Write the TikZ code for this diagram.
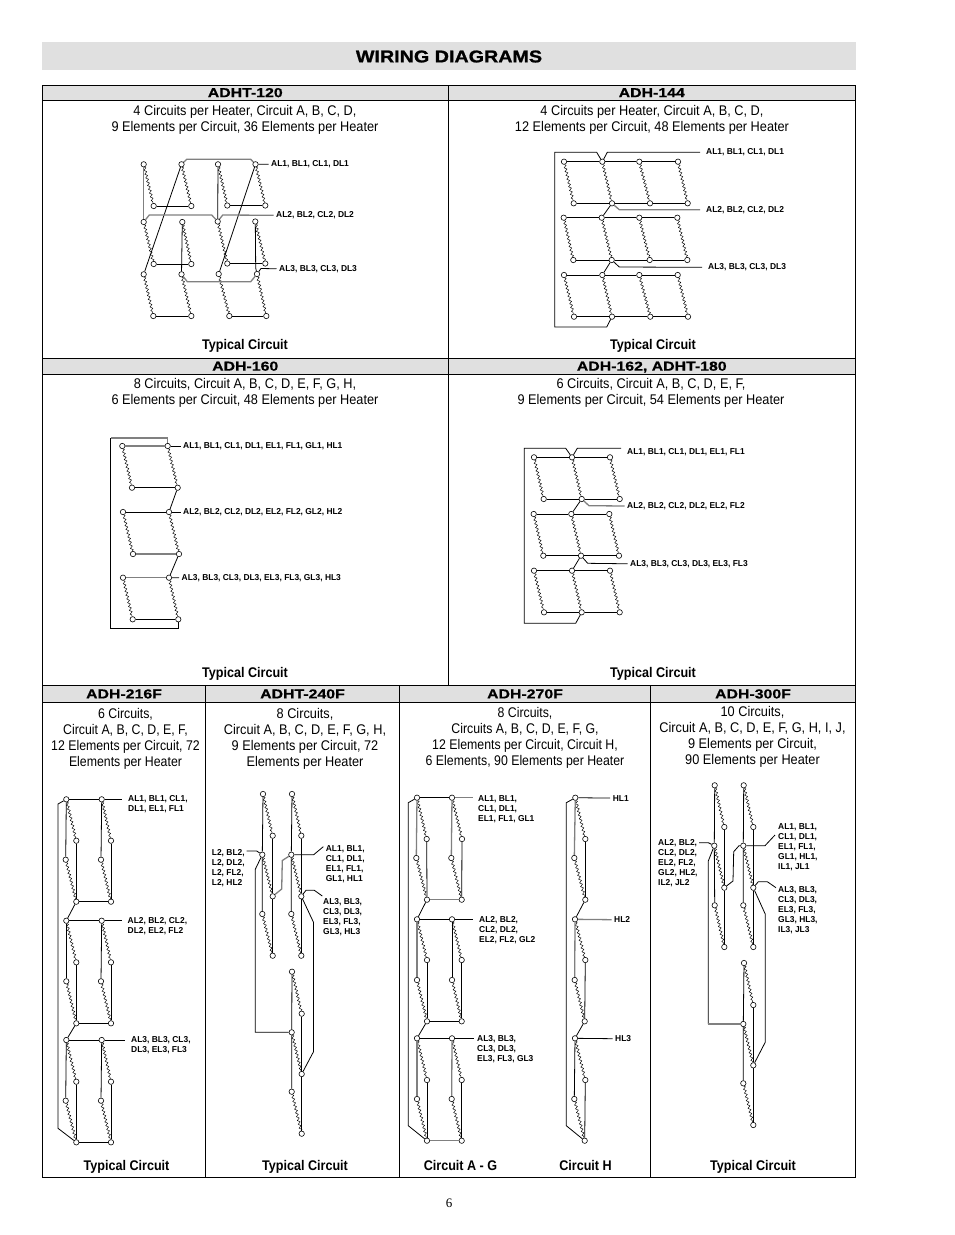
\documentclass[tikz,border=0pt]{standalone}
\usepackage{fontspec}
\setmainfont{Liberation Sans}
\newfontfamily\bodyfont[FakeStretch=.91]{Liberation Sans}
\newfontfamily\narrowfont[FakeStretch=.88]{Liberation Sans}
\newfontfamily\tagfont[FakeStretch=.98]{Liberation Sans}
\newfontfamily\capfont[FakeStretch=.9]{Liberation Sans}
\newfontfamily\headfont[FakeStretch=1.22,BoldFeatures={FakeBold=.6}]{Liberation Sans}
\newfontfamily\titlefont[FakeStretch=1.16,BoldFeatures={FakeBold=1.2}]{Liberation Sans}
\newfontfamily\pagefont{Liberation Serif}
\usetikzlibrary{decorations.pathmorphing}
\definecolor{bandgray}{gray}{0.88}
\begin{document}
\begin{tikzpicture}[
  x=1pt, y=-1pt,
  term/.style={circle, draw, fill=white, minimum size=5.4pt, inner sep=0pt, line width=.6pt},
  wire/.style={draw, line width=.8pt},
  hwire/.style={draw=black!50, line width=1.3pt},
  heater/.style={draw, line width=.45pt, decorate, decoration={zigzag, segment length=3.9pt, amplitude=1.25pt}},
  frameline/.style={draw, line width=.9pt},
  cell/.style={draw, fill=bandgray, line width=.9pt, inner sep=0pt, outer sep=0pt, text height=9.3pt, text depth=0pt, font=\headfont\bfseries\fontsize{13}{14}\selectfont},
  txt/.style={align=center, inner sep=0pt, font=\bodyfont\fontsize{14}{16}\selectfont},
  capt/.style={inner sep=0pt, text height=10pt, text depth=3pt, font=\capfont\bfseries\fontsize{14}{16}\selectfont},
  tag/.style={anchor=west, align=left, inner sep=2.5pt, font=\tagfont\bfseries\fontsize{8.6}{10}\selectfont}
]
\useasboundingbox (0,0) rectangle (954,1235);

\fill[bandgray] (42,42) rectangle (856,70);
\node[inner sep=0pt, font=\titlefont\bfseries\fontsize{17}{18}\selectfont] (title) at (449,56.5) {WIRING DIAGRAMS};

\draw[frameline] (42.5,85) rectangle (855.5,1177);
\foreach \nm/\x/\y/\w/\h/\lab in {
  hA/245.25/92.5/405.5/15/ADHT-120, hB/651.75/92.5/407.5/15/ADH-144,
  hC/245.25/366/405.5/16/ADH-160, hD/651.75/366/407.5/16/{ADH-162, ADHT-180},
  hE/124/693.75/163/16.5/ADH-216F, hF/302.5/693.75/194/16.5/ADHT-240F,
  hG/525/693.75/251/16.5/ADH-270F, hH/753/693.75/205/16.5/ADH-300F}
  \node[cell, minimum width=\w pt, minimum height=\h pt] (\nm) at (\x,\y) {\lab};
\draw[frameline] (448,100) -- (448,358);
\draw[frameline] (448,374) -- (448,685.5);
\draw[frameline] (42.5,358) -- (855.5,358);
\draw[frameline] (42.5,685.5) -- (855.5,685.5);
\foreach \x in {205.5,399.5,650.5} \draw[frameline] (\x,702) -- (\x,1177);

\node[txt] (nA) at (245,120) {4 Circuits per Heater, Circuit A, B, C, D,\\9 Elements per Circuit, 36 Elements per Heater};
\node[txt] (nB) at (652,120) {4 Circuits per Heater, Circuit A, B, C, D,\\12 Elements per Circuit, 48 Elements per Heater};
\node[txt] (nC) at (245,393) {8 Circuits, Circuit A, B, C, D, E, F, G, H,\\6 Elements per Circuit, 48 Elements per Heater};
\node[txt] (nD) at (651,393) {6 Circuits, Circuit A, B, C, D, E, F,\\9 Elements per Circuit, 54 Elements per Heater};
\node[txt, font=\narrowfont\fontsize{14}{16}\selectfont] (nE) at (125.5,739) {6 Circuits,\\Circuit A, B, C, D, E, F,\\12 Elements per Circuit, 72\\Elements per Heater};
\node[txt] (nF) at (305,739) {8 Circuits,\\Circuit A, B, C, D, E, F, G, H,\\9 Elements per Circuit, 72\\Elements per Heater};
\node[txt, font=\narrowfont\fontsize{14}{16}\selectfont] (nG) at (525,738) {8 Circuits,\\Circuits A, B, C, D, E, F, G,\\12 Elements per Circuit, Circuit H,\\6 Elements, 90 Elements per Heater};
\node[txt] (nH) at (752.5,737) {10 Circuits,\\Circuit A, B, C, D, E, F, G, H, I, J,\\9 Elements per Circuit,\\90 Elements per Heater};

\foreach \nm/\x/\y/\lab in {
  cA/245/345.5/Typical Circuit, cB/653/345.5/Typical Circuit, cC/245/673.5/Typical Circuit, cD/653/673.5/Typical Circuit,
  cE/126.5/1166.5/Typical Circuit, cF/305/1166.5/Typical Circuit, cG/460.5/1166.5/Circuit A - G, cGh/585.5/1166.5/Circuit H, cH/753/1166.5/Typical Circuit}
  \node[capt] (\nm) at (\x,\y) {\lab};
\node[inner sep=0pt, font=\pagefont\fontsize{13}{14}\selectfont] (pageno) at (449,1203) {6};

\foreach \nm/\x/\y in {
  At1a/143.7/164.3, At1b/181.5/164.3, At1c/218/164.3, At1d/255.5/164.3,
  Ab1a/153.7/206, Ab1b/191.3/206, Ab1c/227.3/205.5, Ab1d/265.3/205.5,
  At2a/143.7/222, At2b/182.3/222, At2c/217.7/221.5, At2d/255.3/221.5,
  Ab2a/153.7/264, Ab2b/191.3/264, Ab2c/227.3/263.5, Ab2d/265.3/263.5,
  At3a/143.7/274.3, At3b/181.5/274.3, At3c/218.7/274, At3d/257/274,
  Ab3a/153.3/316, Ab3b/191.3/316, Ab3c/229.3/316, Ab3d/266.3/316}
  \node[term] (\nm) at (\x,\y) {};
\node[tag] (lA1) at (268.5,163.8) {AL1, BL1, CL1, DL1};
\node[tag] (lA2) at (273.5,215.5) {AL2, BL2, CL2, DL2};
\node[tag] (lA3) at (276.5,269.5) {AL3, BL3, CL3, DL3};
\foreach \rw in {1,2,3} \foreach \cl in {a,b,c,d} \draw[heater] (At\rw\cl) -- (Ab\rw\cl);
\foreach \rw in {1,2,3} {\draw[wire] (Ab\rw a) -- (Ab\rw b); \draw[wire] (Ab\rw c) -- (Ab\rw d);}
\draw[hwire] (At1a) -- (At2a);
\draw[wire] (At1b) -- (At3a);
\draw[wire] (At1c) -- (At2c);
\draw[wire] (At1d) -- (At3c);
\draw[wire] (At2b) -- (At3b);
\draw[wire] (At2d) -- (255.7,268) -- (At3d);
\draw[hwire] (At1b) -- (186.7,159.3) -- (250.7,159.3) -- (At1d);
\draw[hwire] (At2a) -- (149.3,215) -- (211.7,215) -- (At2c) -- (222.7,215) -- (lA2);
\draw[hwire] (At3b) -- (187.3,281.7) -- (250.7,281.7) -- (At3d);
\draw[wire] (At1d) -- (lA1);
\draw[wire] (At3d) -- (261,268.5) -- (lA3);

\foreach \nm/\x/\y in {
  Bt1a/564/161.7, Bt1b/602.3/161.7, Bt1c/639.3/161.7, Bt1d/678/161.7,
  Bb1a/573.7/203.3, Bb1b/612/203.3, Bb1c/650/203.3, Bb1d/687.7/203.3,
  Bt2a/563.7/217.7, Bt2b/601.7/217.7, Bt2c/639.3/217.7, Bt2d/677.3/217.7,
  Bb2a/573.3/260, Bb2b/611.7/260, Bb2c/649.7/260, Bb2d/687.3/260,
  Bt3a/564/275, Bt3b/602.3/275, Bt3c/639.3/275, Bt3d/677.7/275,
  Bb3a/574/316.7, Bb3b/612/316.7, Bb3c/650.3/316.7, Bb3d/688/316.7}
  \node[term] (\nm) at (\x,\y) {};
\node[tag, inner sep=6pt] (lB1) at (700,152.3) {AL1, BL1, CL1, DL1};
\node[tag, inner sep=6pt] (lB2) at (700,209.7) {AL2, BL2, CL2, DL2};
\node[tag, inner sep=6pt] (lB3) at (702,267.5) {AL3, BL3, CL3, DL3};
\foreach \rw in {1,2,3} \foreach \cl in {a,b,c,d} \draw[heater] (Bt\rw\cl) -- (Bb\rw\cl);
\foreach \rw in {1,2,3} \foreach \u/\v in {a/b,b/c,c/d} {\draw[wire] (Bt\rw\u) -- (Bt\rw\v); \draw[wire] (Bb\rw\u) -- (Bb\rw\v);}
\draw[wire] (Bt1b) -- (596.7,152.3) -- (554.7,152.3) -- (554.7,327) -- (606.7,327) -- (Bb3b);
\draw[wire] (Bt1b) -- (607.3,152.3) -- (lB1);
\draw[wire] (Bb1b) -- (Bt2b);
\draw[hwire] (Bb1b) -- (619.3,209.7) -- (lB2);
\draw[wire] (Bb2b) -- (Bt3b);
\draw[wire] (Bb2b) -- (619.3,267) -- (lB3);

\foreach \nm/\x/\y in {
  Ct1a/122.3/446, Ct1b/167.7/446, Cb1a/132/487.7, Cb1b/177.7/487.7,
  Ct2a/123/512, Ct2b/169/512, Cb2a/133/554, Cb2b/179/554,
  Ct3a/123/577.7, Ct3b/169/577.7, Cb3a/132.7/619.3, Cb3b/178.3/619.3}
  \node[term] (\nm) at (\x,\y) {};
\node[tag] (lC1) at (180.5,446) {AL1, BL1, CL1, DL1, EL1, FL1, GL1, HL1};
\node[tag] (lC2) at (180.5,512) {AL2, BL2, CL2, DL2, EL2, FL2, GL2, HL2};
\node[tag] (lC3) at (179,578.5) {AL3, BL3, CL3, DL3, EL3, FL3, GL3, HL3};
\foreach \rw in {1,2,3} \foreach \cl in {a,b} \draw[heater] (Ct\rw\cl) -- (Cb\rw\cl);
\draw[hwire] (Ct1a) -- (Ct1b);
\draw[wire] (Cb1a) -- (Cb1b);
\draw[wire] (Ct2a) -- (Ct2b);
\draw[hwire] (Cb2a) -- (Cb2b);
\draw[hwire] (Ct3a) -- (Ct3b);
\draw[wire] (Cb3a) -- (Cb3b);
\draw[wire] (Cb1b) -- (Ct2b);
\draw[wire] (Cb2b) -- (Ct3b);
\draw[wire] (Ct1b) -- (lC1);
\draw[wire] (Ct2b) -- (lC2);
\draw[wire] (Ct3b) -- (lC3);
\draw[hwire] (Ct1b) -- (167.7,438) -- (110.7,438);
\draw[wire] (110.7,438) -- (110.7,628) -- (178.3,628) -- (Cb3b);

\foreach \nm/\x/\y in {
  Dt1a/534/457.3, Dt1b/572/457.3, Dt1c/610/457.3, Db1a/543.7/499, Db1b/581.7/499, Db1c/619.7/499,
  Dt2a/533.7/514, Dt2b/571.3/514, Dt2c/609.3/514, Db2a/543.3/555.7, Db2b/581/555.7, Db2c/619/555.7,
  Dt3a/534/570.7, Dt3b/572/570.7, Dt3c/610/570.7, Db3a/544/612.3, Db3b/581.7/612.3, Db3c/619.7/612.3}
  \node[term] (\nm) at (\x,\y) {};
\node[tag] (lD1) at (624.5,451.7) {AL1, BL1, CL1, DL1, EL1, FL1};
\node[tag] (lD2) at (624.5,506.5) {AL2, BL2, CL2, DL2, EL2, FL2};
\node[tag] (lD3) at (627.5,564.5) {AL3, BL3, CL3, DL3, EL3, FL3};
\coordinate (eD1) at (621,448.3);
\foreach \rw in {1,2,3} \foreach \cl in {a,b,c} \draw[heater] (Dt\rw\cl) -- (Db\rw\cl);
\foreach \rw in {1,2,3} \foreach \u/\v in {a/b,b/c} {\draw[wire] (Dt\rw\u) -- (Dt\rw\v); \draw[wire] (Db\rw\u) -- (Db\rw\v);}
\draw[wire] (Dt1b) -- (565.7,448.3) -- (524.3,448.3) -- (524.3,623.3) -- (575.7,623.3) -- (Db3b);
\draw[wire] (Dt1b) -- (577.3,448.3) -- (eD1);
\draw[wire] (Db1b) -- (Dt2b);
\draw[hwire] (Db1b) -- (589,505.7) -- (lD2);
\draw[wire] (Db2b) -- (Dt3b);
\draw[wire] (Db2b) -- (587.7,563.3) -- (lD3);

\foreach \nm/\x/\y in {
  Et1a/66.3/799.3, Et1b/101.7/799.3, Eb1a/76.3/840.7, Eb1b/111/840.7,
  Et2a/65.7/859.7, Et2b/101/859.7, Eb2a/76.3/901.7, Eb2b/111/901.7,
  Et3a/66.3/920.7, Et3b/101.7/920.7, Eb3a/76.3/962.3, Eb3b/111/962.3,
  Et4a/66.3/981.3, Et4b/101/981.3, Eb4a/76.3/1023.3, Eb4b/111/1023.3,
  Et5a/66.3/1040, Et5b/101.7/1040, Eb5a/76.3/1081.7, Eb5b/111/1081.7,
  Et6a/65.7/1100.7, Et6b/101/1100.7, Eb6a/76.3/1142.3, Eb6b/111/1142.3}
  \node[term] (\nm) at (\x,\y) {};
\node[tag] (lE1) at (125.5,804) {AL1, BL1, CL1,\\DL1, EL1, FL1};
\node[tag] (lE2) at (125,926) {AL2, BL2, CL2,\\DL2, EL2, FL2};
\node[tag] (lE3) at (128.5,1045) {AL3, BL3, CL3,\\DL3, EL3, FL3};
\coordinate (eE1) at (122.3,799.3);
\coordinate (eE2) at (122.3,920.7);
\coordinate (eE3) at (125,1040);
\foreach \rw in {1,...,6} \foreach \cl in {a,b} \draw[heater] (Et\rw\cl) -- (Eb\rw\cl);
\foreach \rw/\nx in {1/2,3/4,5/6} \foreach \cl in {a,b} {\draw[wire] (Et\rw\cl) -- (Et\nx\cl); \draw[wire] (Eb\rw\cl) -- (Eb\nx\cl);}
\draw[wire] (Et1a) -- (Et1b) -- (eE1);
\draw[wire] (Et3a) -- (Et3b) -- (eE2);
\draw[wire] (Et5a) -- (Et5b) -- (eE3);
\foreach \u/\v in {Eb2a/Eb2b,Eb4a/Eb4b,Eb6a/Eb6b,Eb2a/Et3a,Eb4a/Et5a} \draw[wire] (\u) -- (\v);
\draw[wire] (Et1a) -- (58,804) -- (58,1128.3) -- (Eb6a);

\foreach \nm/\x/\y in {
  Ft1a/263/794, Fb1a/272.7/835.7, Ft2a/262.3/854.7, Fb2a/272.7/896.3, Ft3a/262.3/914, Fb3a/272.7/955.7,
  Ft1b/292/794, Fb1b/301.3/835.7, Ft2b/291.3/854.7, Fb2b/301.3/896.3, Ft3b/291.3/914, Fb3b/301.3/955.7,
  Ft1c/292/971.7, Fb1c/301.7/1013.7, Ft2c/291.7/1032.3, Fb2c/301.7/1074, Ft3c/291.7/1091.7, Fb3c/301.7/1133.7}
  \node[term] (\nm) at (\x,\y) {};
\node[tag, inner sep=0pt] (lF2) at (211.7,868) {L2, BL2,\\L2, DL2,\\L2, FL2,\\L2, HL2};
\node[tag, inner sep=0pt] (lF1) at (325.7,863.7) {AL1, BL1,\\CL1, DL1,\\EL1, FL1,\\GL1, HL1};
\node[tag, inner sep=0pt] (lF3) at (323,917.3) {AL3, BL3,\\CL3, DL3,\\EL3, FL3,\\GL3, HL3};
\coordinate (eF2) at (246.7,851);
\coordinate (eF1) at (323.3,846.7);
\coordinate (eF3) at (322.3,896);
\foreach \rw in {1,2,3} \foreach \cl in {a,b,c} \draw[heater] (Ft\rw\cl) -- (Fb\rw\cl);
\foreach \cl in {a,b,c} {\draw[wire] (Ft1\cl) -- (Ft2\cl) -- (Ft3\cl); \draw[wire] (Fb1\cl) -- (Fb2\cl) -- (Fb3\cl);}
\draw[hwire] (Fb2a) -- (281.7,889) -- (282.3,860.5) -- (Ft2b);
\draw[wire] (Ft2b) -- (313.7,854.7) -- (eF1);
\draw[wire] (Fb2b) -- (306,890.3) -- (314.3,890.3) -- (eF3);
\draw[wire] (Ft2a) -- (256.7,851) -- (eF2);
\draw[wire] (Ft2a) -- (255.3,869.3) -- (255.3,1032.3) -- (Ft2c);
\draw[wire] (Fb2b) -- (313.5,922.3) -- (313.5,1051.7) -- (Fb2c);

\foreach \nm/\x/\y in {
  Gt1a/417/797.7, Gt1b/452/797.7, Gb1a/426.7/839, Gb1b/462/839, Gt2a/416.3/858, Gt2b/451.3/858, Gb2a/427/899.7, Gb2b/461.7/899.7,
  Gt3a/417/919.3, Gt3b/452/919.3, Gb3a/427/960, Gb3b/461.7/960, Gt4a/417/980, Gt4b/452/980, Gb4a/427/1021.3, Gb4b/461.7/1021.3,
  Gt5a/417/1038.3, Gt5b/452/1038.3, Gb5a/427/1080, Gb5b/461.7/1080, Gt6a/417/1099, Gt6b/451.7/1099, Gb6a/427/1140.7, Gb6b/461.7/1140.7,
  Gt1c/575.3/797.7, Gb1c/585.3/839, Gt2c/574.3/858, Gb2c/585.3/899.7, Gt3c/575/919.3, Gb3c/585.3/960,
  Gt4c/574.7/980, Gb4c/584.7/1021.3, Gt5c/575/1038.3, Gb5c/585.3/1080, Gt6c/574.3/1099, Gb6c/584.7/1140.7}
  \node[term] (\nm) at (\x,\y) {};
\node[tag, inner sep=0pt] (lG1) at (478,808.7) {AL1, BL1,\\CL1, DL1,\\EL1, FL1, GL1};
\node[tag, inner sep=0pt] (lG2) at (479,929.7) {AL2, BL2,\\CL2, DL2,\\EL2, FL2, GL2};
\node[tag, inner sep=0pt] (lG3) at (477,1049) {AL3, BL3,\\CL3, DL3,\\EL3, FL3, GL3};
\node[tag] (lH1) at (610.2,798.2) {HL1};
\node[tag] (lH2) at (611.5,919.8) {HL2};
\node[tag] (lH3) at (612.5,1038.8) {HL3};
\coordinate (eG1) at (473.3,797.7);
\coordinate (eG2) at (473.3,919.3);
\coordinate (eG3) at (474,1038.3);
\foreach \rw in {1,...,6} \foreach \cl in {a,b,c} \draw[heater] (Gt\rw\cl) -- (Gb\rw\cl);
\foreach \u/\v/\sty in {
  Gt1a/Gt2a/hwire, Gb1a/Gb2a/wire, Gt1b/Gt2b/hwire, Gb1b/Gb2b/wire,
  Gt3a/Gt4a/hwire, Gb3a/Gb4a/wire, Gt3b/Gt4b/wire, Gb3b/Gb4b/wire,
  Gt5a/Gt6a/hwire, Gb5a/Gb6a/wire, Gt5b/Gt6b/hwire, Gb5b/Gb6b/wire,
  Gt1c/Gt2c/hwire, Gb1c/Gb2c/wire, Gt3c/Gt4c/hwire, Gb3c/Gb4c/wire,
  Gt5c/Gt6c/wire, Gb5c/Gb6c/wire,
  Gb2a/Gb2b/hwire, Gb4a/Gb4b/wire, Gb6a/Gb6b/hwire,
  Gb2a/Gt3a/wire, Gb4a/Gt5a/wire, Gb2c/Gt3c/wire, Gb4c/Gt5c/wire,
  Gt1a/Gt1b/wire, Gt3a/Gt3b/wire, Gt5a/Gt5b/wire,
  Gt1b/eG1/hwire, Gt3b/eG2/wire, Gt5b/eG3/wire,
  Gt1c/lH1/wire, Gt3c/lH2/hwire, Gt5c/lH3/wire}
  \draw[\sty] (\u) -- (\v);
\draw[wire] (Gt1a) -- (408.3,802.7) -- (408.3,1125.7) -- (Gb6a);
\draw[wire] (Gt1c) -- (566.3,802.7) -- (566.3,1125.7) -- (Gb6c);

\foreach \nm/\x/\y in {
  Ht1a/714.7/785.3, Hb1a/724.3/827, Ht2a/714.3/845.7, Hb2a/724.3/887.7, Ht3a/714.7/905.3, Hb3a/724.3/947,
  Ht1b/743.7/785.3, Hb1b/753.3/827, Ht2b/743.3/845.7, Hb2b/753.3/887.7, Ht3b/743.3/905.3, Hb3b/753.3/947,
  Ht1c/744/963, Hb1c/753.3/1005, Ht2c/743.3/1024, Hb2c/753.3/1065.3, Ht3c/743.3/1083.3, Hb3c/753.3/1125}
  \node[term] (\nm) at (\x,\y) {};
\node[tag, inner sep=0pt] (lH2b) at (658,863.5) {AL2, BL2,\\CL2, DL2,\\EL2, FL2,\\GL2, HL2,\\IL2, JL2};
\node[tag, inner sep=0pt] (lH1b) at (778,847.3) {AL1, BL1,\\CL1, DL1,\\EL1, FL1,\\GL1, HL1,\\IL1, JL1};
\node[tag, inner sep=0pt] (lH3b) at (778,910) {AL3, BL3,\\CL3, DL3,\\EL3, FL3,\\GL3, HL3,\\IL3, JL3};
\coordinate (eH2) at (699,842.7);
\coordinate (eH1) at (775,835);
\coordinate (eH3) at (776,887.7);
\foreach \rw in {1,2,3} \foreach \cl in {a,b,c} \draw[heater] (Ht\rw\cl) -- (Hb\rw\cl);
\foreach \cl in {a,b,c} {\draw[wire] (Ht1\cl) -- (Ht2\cl) -- (Ht3\cl); \draw[wire] (Hb1\cl) -- (Hb2\cl) -- (Hb3\cl);}
\draw[wire] (Hb2a) -- (733,881) -- (733.7,851.7) -- (739,845.7) -- (Ht2b);
\draw[wire] (Ht2b) -- (765,845.7) -- (eH1);
\draw[wire] (Hb2b) -- (758.3,881.7) -- (767.3,881.7) -- (eH3);
\draw[wire] (Ht2a) -- (708.3,842.7) -- (eH2);
\draw[wire] (Ht2a) -- (708.3,861) -- (708.3,1024);
\draw[hwire] (708.3,1024) -- (Ht2c);
\draw[wire] (Hb2b) -- (765.2,914) -- (765.2,1042.3) -- (Hb2c);
\end{tikzpicture}
\end{document}
